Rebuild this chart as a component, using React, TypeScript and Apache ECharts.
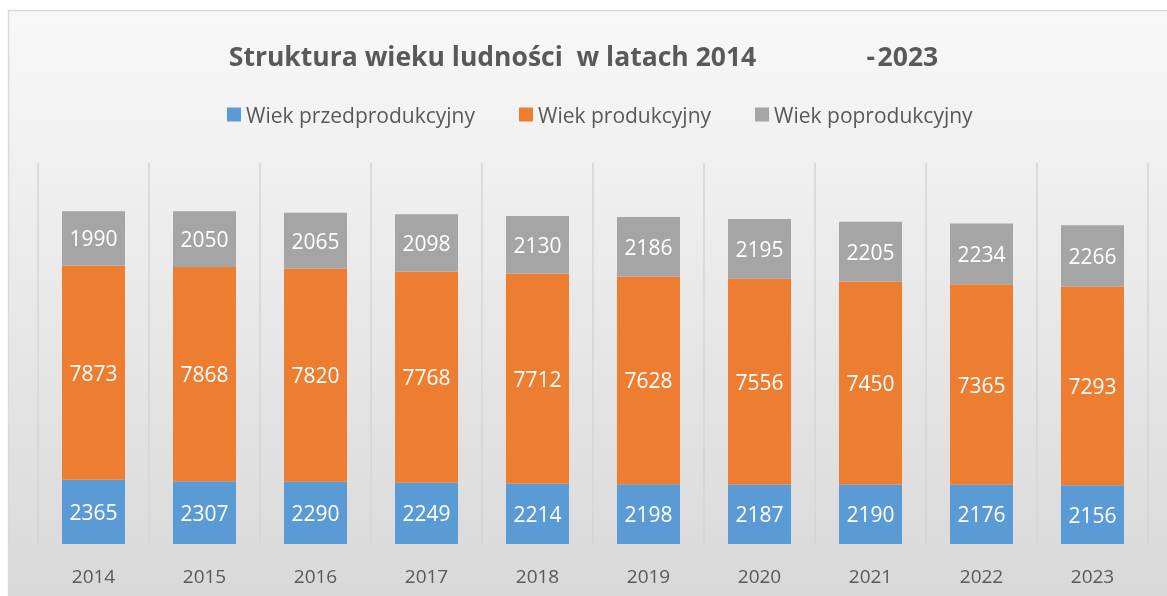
import React, { useEffect, useRef } from "react";
import * as echarts from "echarts";

const years = ["2014", "2015", "2016", "2017", "2018", "2019", "2020", "2021", "2022", "2023"];
const przedprodukcyjny = [2365, 2307, 2290, 2249, 2214, 2198, 2187, 2190, 2176, 2156];
const produkcyjny = [7873, 7868, 7820, 7768, 7712, 7628, 7556, 7450, 7365, 7293];
const poprodukcyjny = [1990, 2050, 2065, 2098, 2130, 2186, 2195, 2205, 2234, 2266];

const FONT = "'Open Sans', sans-serif";
const TITLE = "Struktura wieku ludności  w latach 2014" + " ".repeat(16) + "-\u200a2023";

export default function App() {
  const ref = useRef<HTMLDivElement>(null);
  useEffect(() => {
    const chart = echarts.init(ref.current!, null, { renderer: "svg" });
    const label = {
      show: true,
      position: "inside",
      color: "#ffffff",
      fontSize: 21,
      fontFamily: FONT,
    };
    chart.setOption({
      animation: false,
      graphic: [
        {
          type: "rect",
          z: -100,
          silent: true,
          shape: { x: 8.5, y: 10.5, width: 1175, height: 600 },
          style: {
            fill: new echarts.graphic.LinearGradient(0, 0, 0, 1, [
              { offset: 0, color: "#f8f8f8" },
              { offset: 1, color: "#d8d8d8" },
            ]),
            stroke: "#d9d9d9",
            lineWidth: 1.5,
          },
        },
      ],
      title: {
        text: TITLE,
        left: "center",
        top: 37,
        textStyle: { fontFamily: FONT, fontSize: 26.5, fontWeight: "bold", color: "#595959" },
      },
      legend: {
        top: 104,
        left: 227,
        padding: 0,
        icon: "rect",
        itemWidth: 14,
        itemHeight: 14,
        itemGap: 44,
        textStyle: { fontFamily: FONT, fontSize: 21, color: "#595959" },
      },
      grid: { left: 38, right: 19, top: 163, bottom: 52 },
      xAxis: {
        type: "category",
        data: years,
        axisTick: { show: false },
        axisLine: { lineStyle: { color: "#d9d9d9" } },
        axisLabel: { fontFamily: FONT, fontSize: 19, color: "#595959", margin: 22 },
        splitLine: { show: true, lineStyle: { color: "#d4d4d4", width: 1.5 } },
      },
      yAxis: {
        type: "value",
        min: 0,
        max: 14000,
        show: false,
        splitLine: { show: false },
      },
      series: [
        { name: "Wiek przedprodukcyjny", type: "bar", stack: "a", barWidth: 63, data: przedprodukcyjny, itemStyle: { color: "#5b9bd5" }, label },
        { name: "Wiek produkcyjny", type: "bar", stack: "a", barWidth: 63, data: produkcyjny, itemStyle: { color: "#ed7d31" }, label },
        { name: "Wiek poprodukcyjny", type: "bar", stack: "a", barWidth: 63, data: poprodukcyjny, itemStyle: { color: "#a5a5a5" }, label },
      ],
    });
    return () => chart.dispose();
  }, []);
  return <div ref={ref} style={{ position: "fixed", left: 0, top: 0, width: 1167, height: 596 }} />;
}
